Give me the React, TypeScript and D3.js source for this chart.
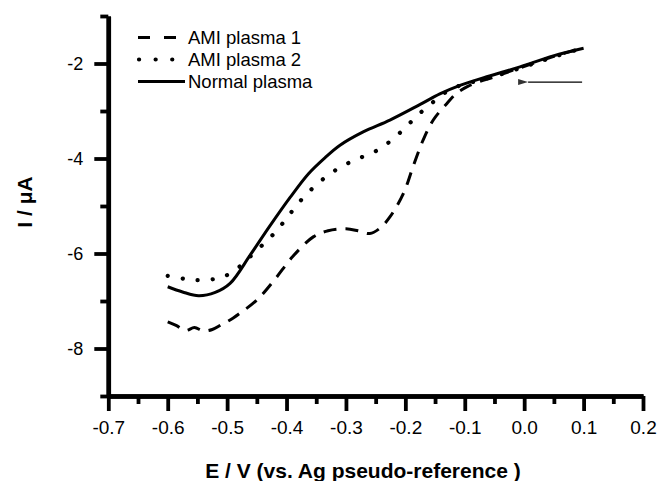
import React, { useEffect, useRef } from "react";
import * as d3 from "d3";

// E / V values and currents
const amiPlasma1X = [-0.6, -0.585, -0.57, -0.555, -0.54, -0.525, -0.51, -0.495, -0.48, -0.45, -0.42, -0.39, -0.355, -0.33, -0.3, -0.28, -0.26, -0.243, -0.226, -0.203, -0.187, -0.17, -0.153, -0.13, -0.114, -0.095, -0.075, -0.05, -0.007, 0.05, 0.1];
const amiPlasma1Y = [-7.44, -7.52, -7.62, -7.56, -7.63, -7.6, -7.5, -7.4, -7.27, -6.98, -6.55, -6.07, -5.65, -5.52, -5.48, -5.52, -5.58, -5.47, -5.23, -4.73, -4.17, -3.61, -3.19, -2.84, -2.63, -2.48, -2.38, -2.28, -2.09, -1.85, -1.67];

const amiPlasma2X = [-0.6, -0.568, -0.546, -0.519, -0.492, -0.45, -0.421, -0.4, -0.38, -0.358, -0.332, -0.306, -0.281, -0.255, -0.23, -0.204, -0.181, -0.155, -0.13, -0.105, -0.08, -0.05, 0.0, 0.05, 0.1];
const amiPlasma2Y = [-6.47, -6.54, -6.56, -6.53, -6.4, -5.93, -5.58, -5.26, -4.94, -4.65, -4.37, -4.16, -4.01, -3.88, -3.68, -3.4, -3.11, -2.83, -2.59, -2.45, -2.37, -2.27, -2.07, -1.86, -1.67];

const normalX = [-0.6, -0.575, -0.548, -0.52, -0.495, -0.461, -0.428, -0.394, -0.363, -0.335, -0.31, -0.271, -0.226, -0.175, -0.142, -0.108, -0.063, -0.007, 0.049, 0.1];
const normalY = [-6.7, -6.81, -6.89, -6.82, -6.63, -6.03, -5.42, -4.82, -4.32, -3.98, -3.72, -3.44, -3.19, -2.86, -2.64, -2.46, -2.28, -2.07, -1.84, -1.68];

const xTicks = [-0.7, -0.6, -0.5, -0.4, -0.3, -0.2, -0.1, 0.0, 0.1, 0.2];
const xMinorTicks = [-0.65, -0.55, -0.45, -0.35, -0.25, -0.15, -0.05, 0.05, 0.15];
const yTicks = [-8, -6, -4, -2];
const yMinorTicks = [-9, -7, -5, -3, -1];

const legendNames = ["AMI plasma 1", "AMI plasma 2", "Normal plasma"];

export default function App() {
  const svgRef = useRef<SVGSVGElement>(null);

  useEffect(() => {
    const w = 660;
    const h = 481;
    const svg = d3.select(svgRef.current);
    svg.selectAll("*").remove();

    const x = d3.scaleLinear().domain([-0.7, 0.2]).range([108.3, 643]);
    const y = d3.scaleLinear().domain([-9, -1]).range([396, 16]);
    const font = "'Liberation Sans', Arial, sans-serif";

    // axes
    const xAxis = d3.axisBottom(x).tickValues(xTicks).tickSize(15).tickSizeOuter(0)
      .tickPadding(10).tickFormat(d3.format(".1f"));
    const xMinor = d3.axisBottom(x).tickValues(xMinorTicks).tickSize(8).tickSizeOuter(0).tickFormat(() => "");
    const yAxis = d3.axisLeft(y).tickValues(yTicks).tickSize(14).tickSizeOuter(0)
      .tickPadding(11).tickFormat(d3.format("d"));
    const yMinor = d3.axisLeft(y).tickValues(yMinorTicks).tickSize(8).tickSizeOuter(0).tickFormat(() => "");

    const gx = svg.append("g").attr("transform", `translate(0,${y(-9)})`).call(xAxis);
    svg.append("g").attr("transform", `translate(0,${y(-9)})`).call(xMinor);
    const gy = svg.append("g").attr("transform", `translate(${x(-0.7)},0)`).call(yAxis);
    svg.append("g").attr("transform", `translate(${x(-0.7)},0)`).call(yMinor);

    svg.selectAll(".domain").attr("stroke", "#000").attr("stroke-width", 4.5);
    svg.selectAll(".tick line").attr("stroke", "#000").attr("stroke-width", 3.8);
    gx.selectAll("text").attr("font-family", font).attr("font-size", 19).attr("fill", "#000")
      .text((d: any) => d3.format(".1f")(d).replace("−", "-"));
    gy.selectAll("text").attr("font-family", font).attr("font-size", 18).attr("fill", "#000")
      .text((d: any) => String(d));

    // curves
    const line = d3.line<[number, number]>()
      .x(d => x(d[0]))
      .y(d => y(d[1]))
      .curve(d3.curveCatmullRom);

    const zip = (xs: number[], ys: number[]) => xs.map((v, i) => [v, ys[i]] as [number, number]);

    const series = [
      { pts: zip(amiPlasma1X, amiPlasma1Y), dash: "13 9", cap: "butt" },
      { pts: zip(amiPlasma2X, amiPlasma2Y), dash: "0.1 15", cap: "round" },
      { pts: zip(normalX, normalY), dash: null, cap: "butt" },
    ];

    series.forEach(s => {
      svg.append("path")
        .attr("d", line(s.pts))
        .attr("fill", "none")
        .attr("stroke", "#000")
        .attr("stroke-width", s.cap === "round" ? 4.2 : 3)
        .attr("stroke-linecap", s.cap)
        .attr("stroke-dasharray", s.dash);
    });

    // legend
    const leg = svg.append("g");
    legendNames.forEach((name, i) => {
      const ly = 37.5 + i * 22;
      const s = series[i];
      leg.append("line")
        .attr("x1", i === 1 ? 139 : 138).attr("x2", i === 2 ? 185 : 176)
        .attr("y1", ly).attr("y2", ly)
        .attr("stroke", "#000")
        .attr("stroke-width", i === 1 ? 4.2 : 3)
        .attr("stroke-linecap", s.cap)
        .attr("stroke-dasharray", i === 0 ? "12 14" : i === 1 ? "0.1 16.5" : null);
      leg.append("text")
        .attr("x", 188).attr("y", ly + 6.5)
        .attr("font-family", font).attr("font-size", 18.5)
        .text(name);
    });

    // arrow marking the scan direction
    svg.append("defs").append("marker")
      .attr("id", "arrowhead")
      .attr("viewBox", "0 0 10 6")
      .attr("refX", 0).attr("refY", 3)
      .attr("markerWidth", 10).attr("markerHeight", 6)
      .attr("markerUnits", "userSpaceOnUse")
      .attr("orient", "auto-start-reverse")
      .append("path").attr("d", "M0,3 L10,0 L10,6 Z").attr("fill", "#333");
    svg.append("line")
      .attr("x1", x(0.0975)).attr("x2", x(0.0066))
      .attr("y1", y(-2.39)).attr("y2", y(-2.39))
      .attr("stroke", "#000").attr("stroke-width", 1.3)
      .attr("marker-end", "url(#arrowhead)");

    // titles
    svg.append("text")
      .attr("x", 363).attr("y", 478)
      .attr("text-anchor", "middle")
      .attr("font-family", font).attr("font-size", 21).attr("font-weight", "bold")
      .text("E / V (vs. Ag pseudo-reference )");
    svg.append("text")
      .attr("transform", `translate(32,202) rotate(-90)`)
      .attr("text-anchor", "middle")
      .attr("font-family", font).attr("font-size", 21).attr("font-weight", "bold")
      .text("I / μA");

    svg.attr("width", w).attr("height", h);
  }, []);

  return (
    <svg
      ref={svgRef}
      width={660}
      height={481}
      style={{ position: "absolute", left: 0, top: 0, background: "#fff" }}
    />
  );
}
